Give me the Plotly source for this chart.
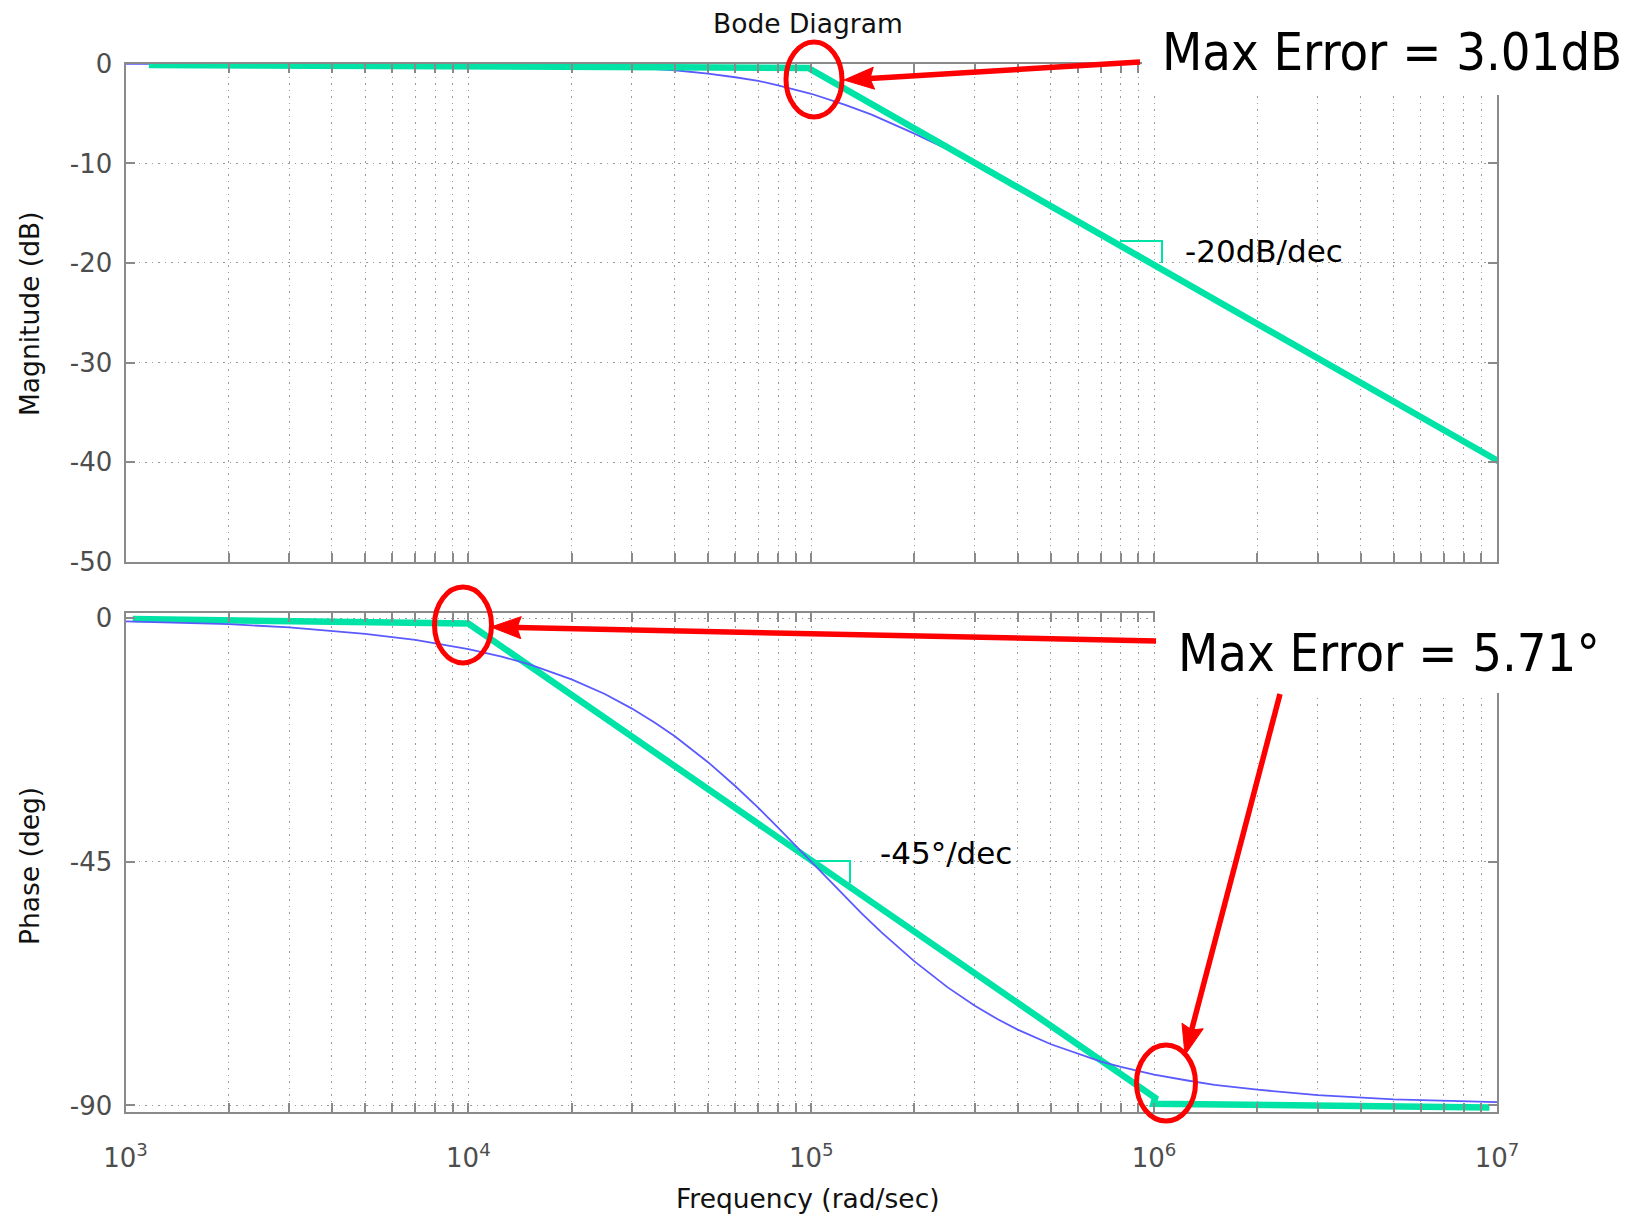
import math
import plotly.graph_objects as go

# ---------------- data ----------------
mag_freq = [1e3, 1e4, 2e4, 3e4, 4e4, 5e4, 6e4, 7e4, 8e4, 1e5, 1.25e5, 1.5e5, 2e5, 2.5e5, 3e5,
            4e5, 5e5, 1e6, 2e6, 3e6, 5e6, 1e7]
mag_db = [0.0, -0.04, -0.17, -0.37, -0.64, -0.97, -1.34, -1.7, -2.15, -3.0, -4.1, -5.1, -7.0,
          -8.6, -10.0, -12.3, -14.1, -20.0, -26.0, -29.5, -34.0, -40.0]

mag_asym_freq = [1.17e3, 0.98e5, 1.02e7]
mag_asym_db = [-0.1, -0.4, -40.0]

ph_freq = [1e3, 1.5e3, 2e3, 3e3, 5e3, 7e3, 1e4, 1.25e4, 1.5e4, 2e4, 2.5e4, 3e4, 3.5e4, 4e4,
           5e4, 6e4, 7e4, 8e4, 9e4, 1e5, 1.12e5, 1.25e5, 1.4e5, 1.6e5, 1.8e5, 2e5, 2.5e5,
           3e5, 3.5e5, 4e5, 5e5, 6e5, 7e5, 8e5, 1e6, 1.25e6, 1.5e6, 2e6, 3e6, 5e6, 7e6, 1e7]
ph_deg = [-0.6, -0.9, -1.1, -1.7, -2.9, -4.0, -5.7, -7.1, -8.5, -11.3, -14.0, -16.7, -19.3,
          -21.8, -26.6, -31.0, -35.0, -38.7, -42.0, -45.0, -48.2, -51.3, -54.5, -58.0, -60.9,
          -63.4, -68.2, -71.6, -74.1, -76.0, -78.7, -80.5, -81.9, -82.9, -84.3, -85.4, -86.2,
          -87.1, -88.1, -88.9, -89.2, -89.4]

ph_asym_freq = [1.05e3, 1.0e4, 1.007e6, 0.995e6, 9.5e6]
ph_asym_deg = [-0.15, -1.0, -88.6, -89.7, -90.4]

major_freqs = [1e3, 1e4, 1e5, 1e6, 1e7]
major_labels = ["10<sup>3</sup>", "10<sup>4</sup>", "10<sup>5</sup>", "10<sup>6</sup>", "10<sup>7</sup>"]
mag_ticks = [0, -10, -20, -30, -40, -50]
mag_tick_labels = ["0", "-10", "-20", "-30", "-40", "-50"]
ph_ticks = [0, -45, -90]
ph_tick_labels = ["0", "-45", "-90"]

# ---------------- styling ----------------
W, H = 1643, 1215
def P(px):
    return px / W
def Q(py):
    return 1 - py / H

BLUE = "#5a5aff"
GREEN = "#00e3a6"
RED = "#ff0000"
AXC = "#8a8a8a"
GRIDC = "#9a9a9a"
GRIDDASH = "1.5px,5px"
MFONT = "DejaVu Sans"
TICKFONT = dict(family=MFONT, size=26, color="#4d4d4d")

minor_freqs = [m * 10 ** d for d in range(3, 7) for m in range(2, 10)]

fig = go.Figure()
fig.add_trace(go.Scatter(x=mag_freq, y=mag_db, mode="lines", line=dict(color=BLUE, width=1.8),
                         xaxis="x", yaxis="y", showlegend=False))
fig.add_trace(go.Scatter(x=mag_asym_freq, y=mag_asym_db, mode="lines",
                         line=dict(color=GREEN, width=6.5), xaxis="x", yaxis="y", showlegend=False))
fig.add_trace(go.Scatter(x=ph_asym_freq, y=ph_asym_deg, mode="lines",
                         line=dict(color=GREEN, width=6.5), xaxis="x2", yaxis="y2", showlegend=False))
fig.add_trace(go.Scatter(x=ph_freq, y=ph_deg, mode="lines", line=dict(color=BLUE, width=1.8),
                         xaxis="x2", yaxis="y2", showlegend=False))

xcommon = dict(type="log", range=[3, 7], domain=[P(125.5), P(1497)], tickmode="array",
               tickvals=major_freqs, ticktext=major_labels, showline=True, linecolor=AXC,
               linewidth=2, mirror="ticks", ticks="inside", ticklen=9, tickcolor=AXC,
               tickwidth=1.5, showgrid=True, gridcolor=GRIDC, griddash=GRIDDASH, gridwidth=1.2,
               zeroline=False, tickfont=TICKFONT, automargin=False,
               minor=dict(tickmode="array", tickvals=minor_freqs, ticks="inside", ticklen=9,
                          tickcolor=AXC, tickwidth=1.5, showgrid=True, gridcolor=GRIDC,
                          griddash=GRIDDASH, gridwidth=1.2))
ycommon = dict(showline=True, linecolor=AXC, linewidth=2, mirror="ticks", ticks="inside",
               ticklen=9, tickcolor=AXC, tickwidth=1.5, showgrid=True, gridcolor=GRIDC,
               griddash=GRIDDASH, gridwidth=1.2, zeroline=False, tickfont=TICKFONT,
               tickmode="array", ticklabelstandoff=6, automargin=False)

fig.update_layout(
    width=W, height=H, margin=dict(l=0, r=0, t=0, b=0, pad=0),
    paper_bgcolor="white", plot_bgcolor="white", showlegend=False,
    xaxis=dict(xcommon, anchor="y", showticklabels=False),
    yaxis=dict(ycommon, anchor="x", domain=[Q(561.6), Q(63.9)], range=[-50, 0],
               tickvals=mag_ticks, ticktext=mag_tick_labels),
    xaxis2=dict(xcommon, anchor="y2", matches="x", ticklabelstandoff=22),
    yaxis2=dict(ycommon, anchor="x2", domain=[Q(1112), Q(613)], range=[-91.22, 0.96],
                tickvals=ph_ticks, ticktext=ph_tick_labels),
)

shapes = []
# white text boxes covering the axes
shapes.append(dict(type="rect", xref="paper", yref="paper", x0=P(1142), x1=P(1643), y0=Q(95), y1=Q(0),
                   fillcolor="white", line=dict(width=0), layer="above"))
shapes.append(dict(type="rect", xref="paper", yref="paper", x0=P(1155), x1=P(1643), y0=Q(693), y1=Q(598),
                   fillcolor="white", line=dict(width=0), layer="above"))
# red ellipses
for cx, cy, rx, ry in [(814, 79.5, 28, 37.5), (463, 625, 28.5, 38), (1166, 1083, 29.5, 38)]:
    shapes.append(dict(type="circle", xref="paper", yref="paper", x0=P(cx - rx), x1=P(cx + rx),
                       y0=Q(cy + ry), y1=Q(cy - ry), line=dict(color=RED, width=5), layer="above"))
# slope triangles
for (hx0, hx1, hy, vy1) in [(1120, 1162, 241, 263), (815, 850, 861, 883)]:
    path = f"M {P(hx0)} {Q(hy)} L {P(hx1)} {Q(hy)} L {P(hx1)} {Q(vy1)}"
    shapes.append(dict(type="path", xref="paper", yref="paper", path=path,
                       line=dict(color=GREEN, width=2), layer="above"))
# red arrows: (tip, tail) in pixels
HEAD_LEN, HEAD_HALF = 30, 11
for (tx, ty, sx, sy) in [(844, 80, 1140, 62), (491, 627, 1156, 641), (1185, 1055, 1280, 694)]:
    L = math.hypot(tx - sx, ty - sy)
    dx, dy = (tx - sx) / L, (ty - sy) / L
    nx, ny = -dy, dx
    bx, by = tx - HEAD_LEN * dx, ty - HEAD_LEN * dy
    shapes.append(dict(type="line", xref="paper", yref="paper", x0=P(sx), y0=Q(sy),
                       x1=P(bx + 4 * dx), y1=Q(by + 4 * dy),
                       line=dict(color=RED, width=5.5), layer="above"))
    path = (f"M {P(tx)} {Q(ty)} L {P(bx + HEAD_HALF * nx)} {Q(by + HEAD_HALF * ny)} "
            f"L {P(bx + 4 * dx)} {Q(by + 4 * dy)} "
            f"L {P(bx - HEAD_HALF * nx)} {Q(by - HEAD_HALF * ny)} Z")
    shapes.append(dict(type="path", xref="paper", yref="paper", path=path, fillcolor=RED,
                       line=dict(color=RED, width=1), layer="above"))
fig.update_layout(shapes=shapes)

ann = []
LABF = dict(family=MFONT, size=26.5, color="#111")
ann.append(dict(text="Bode Diagram", x=P(808), y=Q(24), xref="paper", yref="paper",
                showarrow=False, xanchor="center", yanchor="middle", font=LABF))
ann.append(dict(text="Frequency (rad/sec)", x=P(808), y=Q(1198), xref="paper", yref="paper",
                showarrow=False, xanchor="center", yanchor="middle", font=LABF))
ann.append(dict(text="Magnitude (dB)", x=P(29), y=Q(314), xref="paper", yref="paper",
                showarrow=False, xanchor="center", yanchor="middle", textangle=-90, font=LABF))
ann.append(dict(text="Phase (deg)", x=P(29), y=Q(866), xref="paper", yref="paper",
                showarrow=False, xanchor="center", yanchor="middle", textangle=-90, font=LABF))
# slope labels
ann.append(dict(text="-20dB/dec", x=P(1183), y=Q(251), xref="paper", yref="paper",
                showarrow=False, xanchor="left", yanchor="middle",
                font=dict(family=MFONT, size=31, color="black")))
ann.append(dict(text="-45°/dec", x=P(878), y=Q(853), xref="paper", yref="paper",
                showarrow=False, xanchor="left", yanchor="middle",
                font=dict(family=MFONT, size=31, color="black")))
# big labels
BIG = dict(family="DejaVu Sans Condensed, DejaVu Sans", size=52, color="black")
ann.append(dict(text="Max Error = 3.01dB", x=P(1160), y=Q(52), xref="paper", yref="paper",
                showarrow=False, xanchor="left", yanchor="middle", font=BIG))
ann.append(dict(text="Max Error = 5.71°", x=P(1176), y=Q(653), xref="paper", yref="paper",
                showarrow=False, xanchor="left", yanchor="middle", font=BIG))
fig.update_layout(annotations=ann)

fig.write_html("out.html")
